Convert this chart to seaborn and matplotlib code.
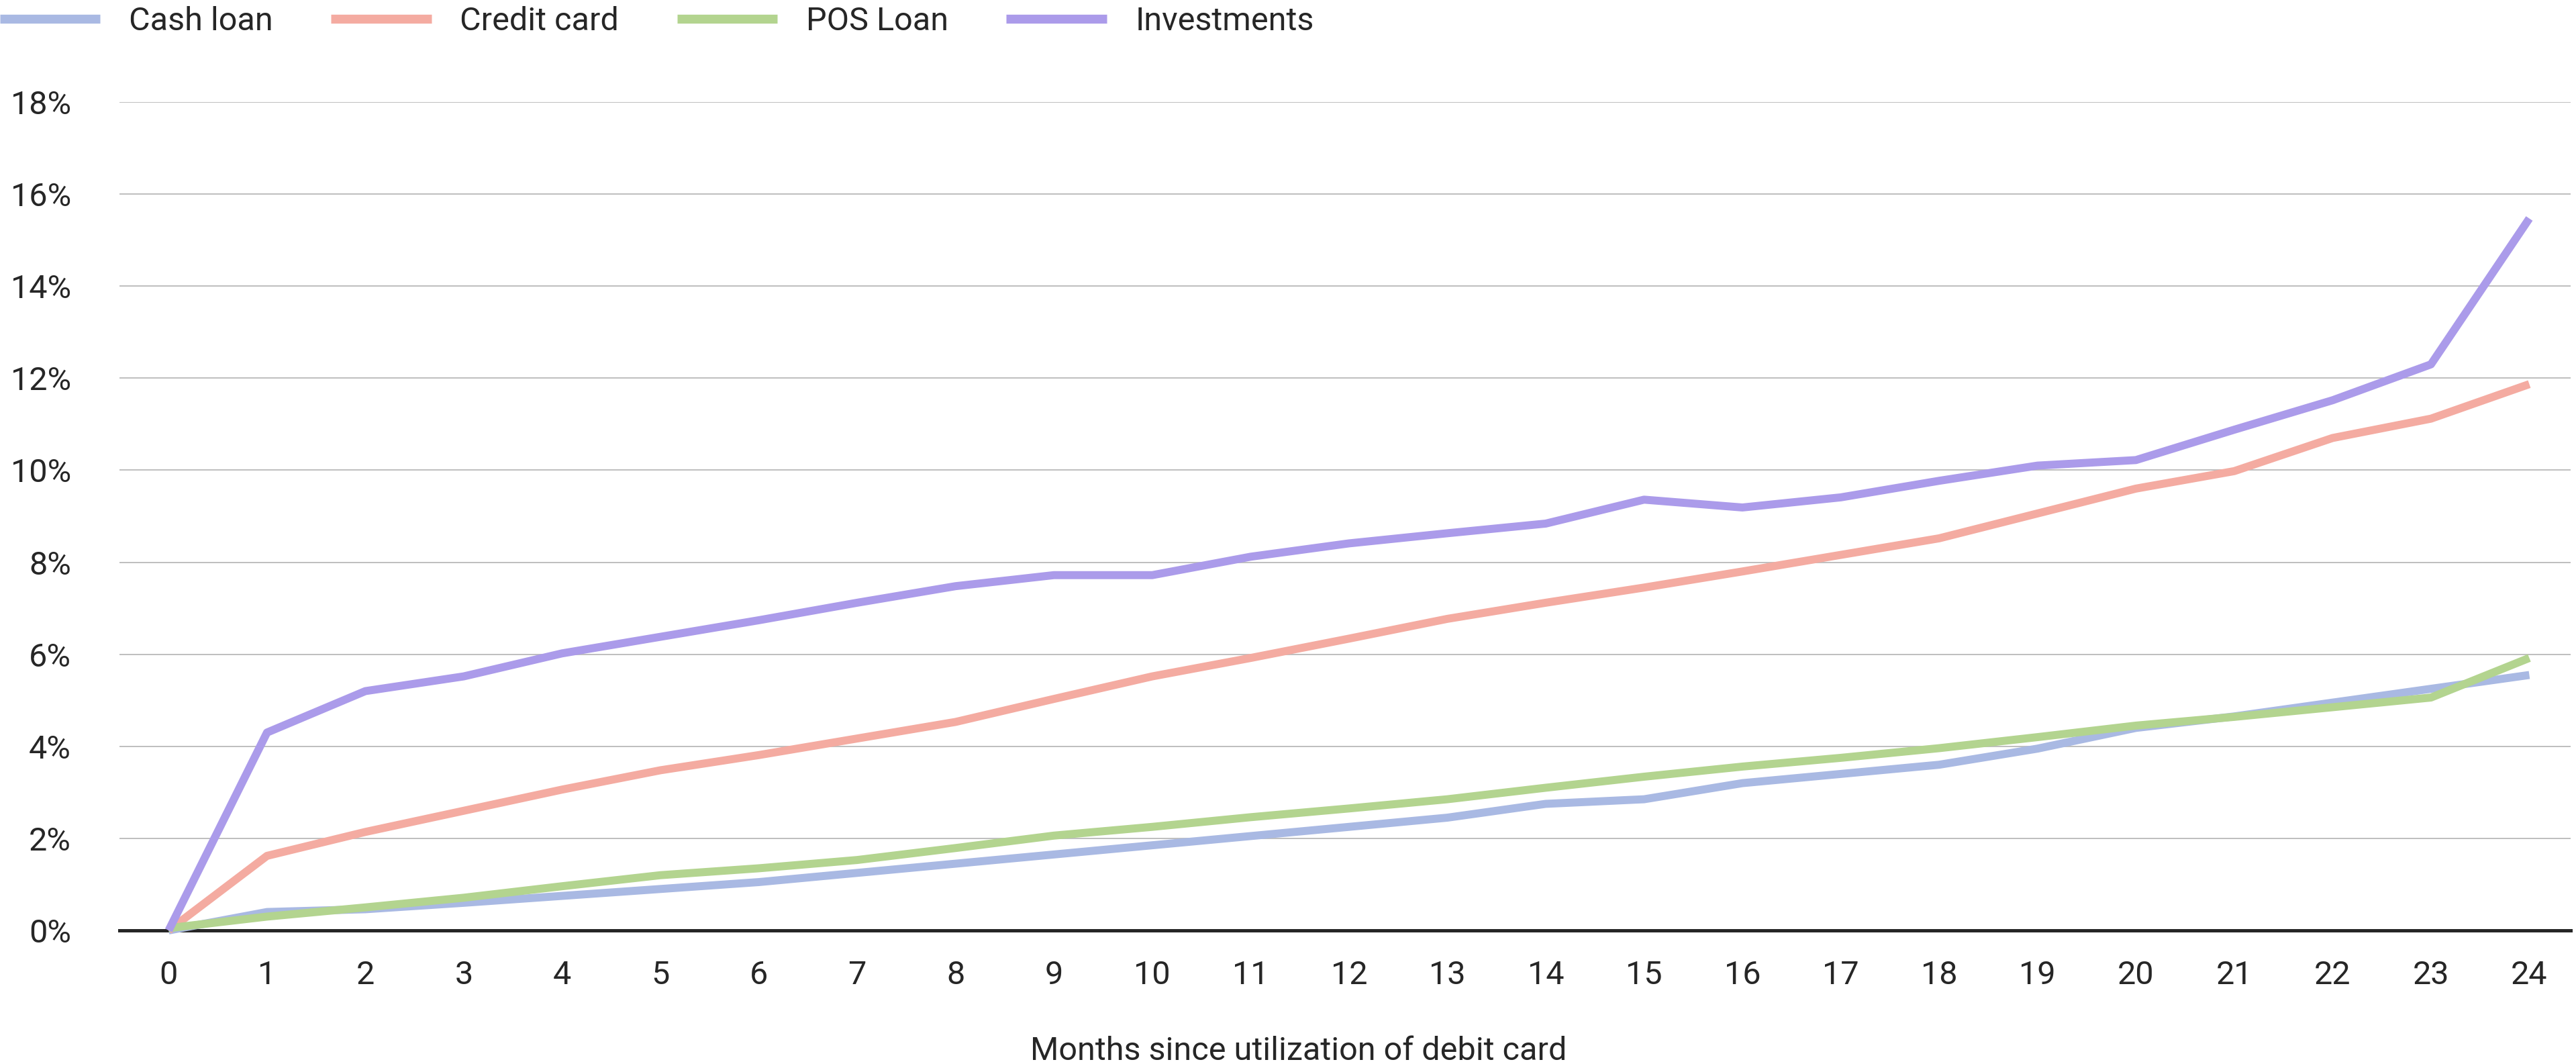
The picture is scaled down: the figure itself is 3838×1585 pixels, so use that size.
import matplotlib
matplotlib.use("Agg")
import matplotlib.pyplot as plt
import pandas as pd
import seaborn as sns

# Cumulative share of debit-card users taking up each product (%)
months = list(range(25))
cash_loan = [0.0, 0.40, 0.46, 0.60, 0.75, 0.90, 1.05, 1.25, 1.45, 1.65, 1.85, 2.05, 2.25,
             2.45, 2.75, 2.85, 3.20, 3.40, 3.60, 3.95, 4.40, 4.65, 4.95, 5.25, 5.55]
credit_card = [0.0, 1.62, 2.14, 2.60, 3.06, 3.48, 3.81, 4.17, 4.53, 5.03, 5.52, 5.92, 6.34,
               6.77, 7.12, 7.45, 7.80, 8.16, 8.52, 9.06, 9.60, 9.98, 10.70, 11.12, 11.87]
pos_loan = [0.05, 0.30, 0.50, 0.71, 0.96, 1.20, 1.35, 1.53, 1.79, 2.06, 2.25, 2.46, 2.65,
            2.85, 3.10, 3.34, 3.56, 3.75, 3.96, 4.20, 4.45, 4.64, 4.85, 5.06, 5.92]
investments = [0.0, 4.30, 5.20, 5.52, 6.02, 6.38, 6.74, 7.12, 7.48, 7.72, 7.72, 8.12, 8.41,
               8.63, 8.84, 9.36, 9.19, 9.41, 9.77, 10.10, 10.22, 10.88, 11.52, 12.30, 15.47]

series_names = ["Cash loan", "Credit card", "POS Loan", "Investments"]
series_colors = ["#A9B9E3", "#F4ABA1", "#B3D48F", "#AB9BEA"]
y_ticks = [0, 2, 4, 6, 8, 10, 12, 14, 16, 18]
y_tick_labels = ["0%", "2%", "4%", "6%", "8%", "10%", "12%", "14%", "16%", "18%"]
x_label = "Months since utilization of debit card"

sns.set_theme(style="white")
plt.rcParams["font.family"] = ["Roboto", "DejaVu Sans"]

TEXT = "#262626"
FS = 35

W, H, DPI = 3838, 1585, 100
fig = plt.figure(figsize=(W / DPI, H / DPI), dpi=DPI)
fig.patch.set_facecolor("white")
ax = fig.add_axes([178 / W, 1 - 1386 / H, (3830 - 178) / W, (1386 - 152) / H])

wide = pd.DataFrame({
    "month": months,
    "Cash loan": cash_loan,
    "Credit card": credit_card,
    "POS Loan": pos_loan,
    "Investments": investments,
})
long = wide.melt(id_vars="month", var_name="series", value_name="value")

sns.lineplot(
    data=long, x="month", y="value", hue="series", hue_order=series_names,
    palette=dict(zip(series_names, series_colors)), linewidth=8.6,
    estimator=None, sort=False, ax=ax,
)
for line in ax.lines:
    line.set_solid_capstyle("butt")
    line.set_solid_joinstyle("round")
    line.set_clip_on(False)

ax.set_xlim(-0.5, 24.42)
ax.set_ylim(0, 18)
ax.set_xticks(months)
ax.set_xticklabels([str(m) for m in months])
ax.set_yticks(y_ticks)
ax.set_yticklabels(y_tick_labels)

ax.yaxis.grid(True, color="#BFBFBF", linewidth=1.44)
ax.xaxis.grid(False)
ax.set_axisbelow(True)
for side in ("left", "right", "top"):
    ax.spines[side].set_visible(False)
ax.spines["bottom"].set_color(TEXT)
ax.spines["bottom"].set_linewidth(3.6)
ax.spines["bottom"].set_zorder(1.5)

ax.tick_params(axis="both", length=0, labelsize=FS, labelcolor=TEXT)
ax.tick_params(axis="x", pad=32)
ax.tick_params(axis="y", pad=52)

ax.set_ylabel("")
ax.set_xlabel(x_label, fontsize=FS, color=TEXT)
ax.xaxis.label.set_verticalalignment("baseline")
ax.xaxis.set_label_coords(0.481, -0.1564)

sns.move_legend(
    ax, loc="upper left", bbox_to_anchor=(0.0, 1.0 - 9 / H), bbox_transform=fig.transFigure,
    ncol=4, frameon=False, title=None, fontsize=FS, borderpad=0, borderaxespad=0,
    handlelength=3.07, handletextpad=0.88, columnspacing=1.78,
)
leg = ax.get_legend()
for h in leg.get_lines():
    h.set_linewidth(9.6)
    h.set_solid_capstyle("butt")
for t in leg.get_texts():
    t.set_color(TEXT)

fig.savefig("out.png", dpi=DPI, facecolor="white")
